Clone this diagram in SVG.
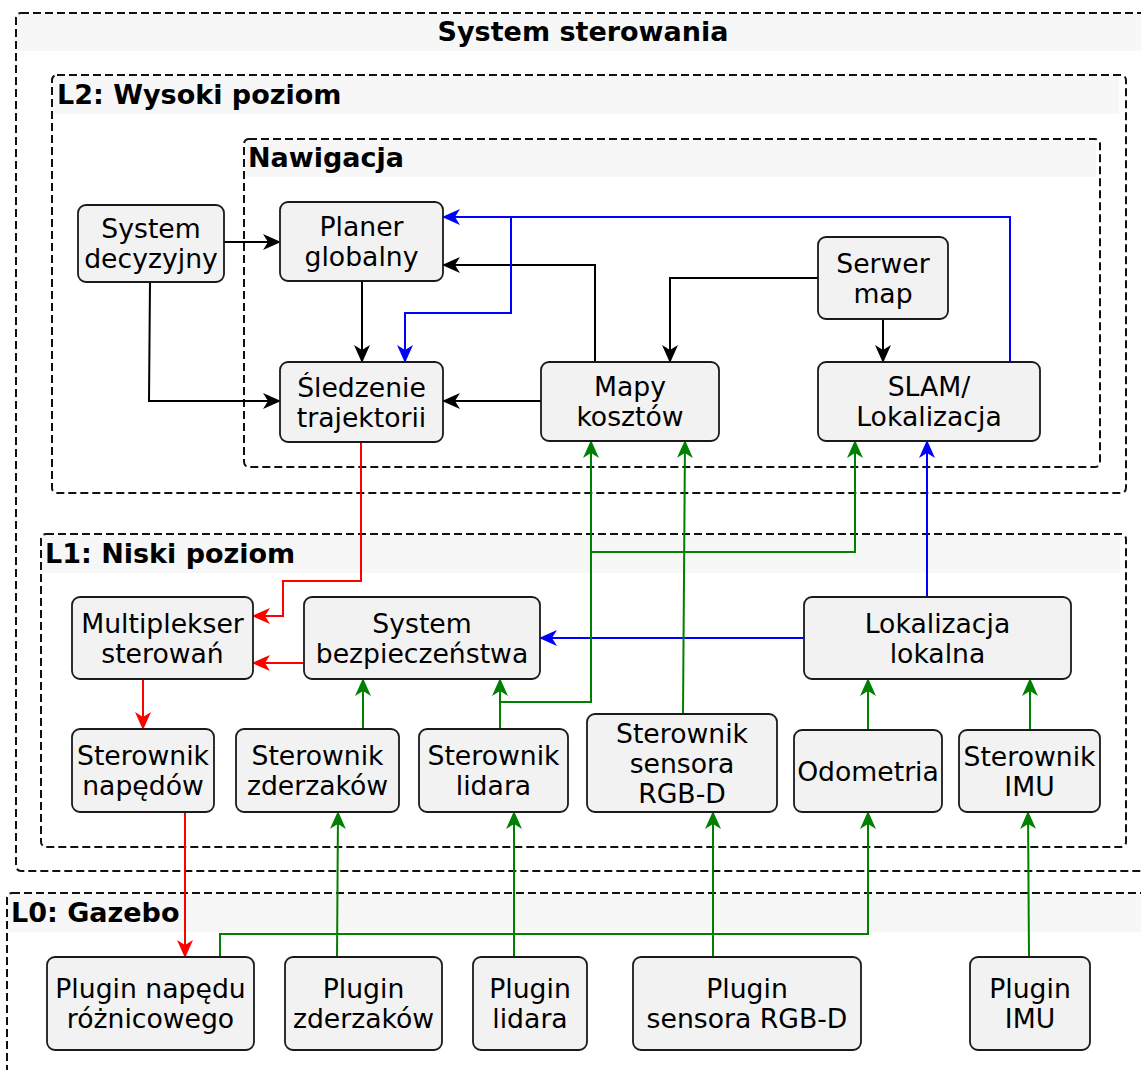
<svg xmlns="http://www.w3.org/2000/svg" width="1141" height="1070" viewBox="0 0 1141 1070">
  <defs>
    <style>
      .cl { fill: none; stroke: #111; stroke-width: 2; stroke-dasharray: 8 4; }
      .band { fill: #f7f7f7; stroke: none; }
      .ct { font-family: "DejaVu Sans", "Liberation Sans", sans-serif; font-size: 27px; font-weight: bold; fill: #000; }
      .nd rect { fill: #f2f2f2; stroke: #1a1a1a; stroke-width: 1.8; }
      .nd text { font-family: "DejaVu Sans", "Liberation Sans", sans-serif; font-size: 26.67px; fill: #000; text-anchor: middle; }
      .e { fill: none; stroke-width: 2; }
      .k { stroke: #000; marker-end: url(#ak); }
      .b { stroke: #0000ff; marker-end: url(#ab); }
      .r { stroke: #ff0000; marker-end: url(#ar); }
      .g { stroke: #008000; marker-end: url(#ag); }
    </style>
    <marker id="ak" viewBox="0 0 18 16" refX="17" refY="8" markerWidth="18" markerHeight="16" markerUnits="userSpaceOnUse" orient="auto"><path d="M0,0 L18,8 L0,16 L5,8 z" fill="#000"/></marker>
    <marker id="ab" viewBox="0 0 18 16" refX="17" refY="8" markerWidth="18" markerHeight="16" markerUnits="userSpaceOnUse" orient="auto"><path d="M0,0 L18,8 L0,16 L5,8 z" fill="#0000ff"/></marker>
    <marker id="ar" viewBox="0 0 18 16" refX="17" refY="8" markerWidth="18" markerHeight="16" markerUnits="userSpaceOnUse" orient="auto"><path d="M0,0 L18,8 L0,16 L5,8 z" fill="#ff0000"/></marker>
    <marker id="ag" viewBox="0 0 18 16" refX="17" refY="8" markerWidth="18" markerHeight="16" markerUnits="userSpaceOnUse" orient="auto"><path d="M0,0 L18,8 L0,16 L5,8 z" fill="#008000"/></marker>
  </defs>
  <rect width="1141" height="1070" fill="#fff"/>

  <!-- clusters -->
  <g id="cluster-system">
    <rect class="band" x="17" y="14" width="1132" height="37"/>
    <rect class="cl" x="16" y="13" width="1134" height="858" rx="5"/>
    <text class="ct" x="583" y="41" text-anchor="middle">System sterowania</text>
  </g>
  <g id="cluster-l2">
    <rect class="band" x="53" y="76" width="1066" height="38"/>
    <rect class="cl" x="52" y="75" width="1074" height="418" rx="5"/>
    <text class="ct" x="57" y="104">L2: Wysoki poziom</text>
  </g>
  <g id="cluster-nav">
    <rect class="band" x="245" y="140" width="851" height="37"/>
    <rect class="cl" x="244" y="139" width="856" height="328" rx="5"/>
    <text class="ct" x="248" y="167">Nawigacja</text>
  </g>
  <g id="cluster-l1">
    <rect class="band" x="42" y="535" width="1078" height="38"/>
    <rect class="cl" x="41" y="534" width="1085" height="313" rx="5"/>
    <text class="ct" x="45" y="563">L1: Niski poziom</text>
  </g>
  <g id="cluster-l0">
    <rect class="band" x="8" y="894" width="1140" height="38"/>
    <rect class="cl" x="7" y="893" width="1150" height="200" rx="5"/>
    <text class="ct" x="11" y="922">L0: Gazebo</text>
  </g>

  <!-- connectors -->
  <g id="edges">
    <!-- black: navigation flow -->
    <path class="e k" d="M224,242 H280"/>
    <path class="e k" d="M150,282 L149,401 H280"/>
    <path class="e k" d="M362,281 V362"/>
    <path class="e k" d="M541,401 H443"/>
    <path class="e k" d="M595,362 V265 H443"/>
    <path class="e k" d="M818,278 H670 V362"/>
    <path class="e k" d="M883,319 V362"/>
    <!-- blue: localisation -->
    <path class="e b" d="M1010,362 V217 H443"/>
    <path class="e b" d="M1010,362 V217 H511 V313 H405 V362"/>
    <path class="e b" d="M927,597 V441"/>
    <path class="e b" d="M804,638 H540"/>
    <!-- red: velocity commands -->
    <path class="e r" d="M361,442 V581 H283 V616 H253"/>
    <path class="e r" d="M304,663 H253"/>
    <path class="e r" d="M143,679 V729"/>
    <path class="e r" d="M185,812 V957"/>
    <!-- green: sensor data -->
    <path class="e g" d="M363,729 V679"/>
    <path class="e g" d="M500,729 V679"/>
    <path class="e g" d="M500,729 V702 H591 V441"/>
    <path class="e g" d="M500,729 V702 H591 V552 H855 V441"/>
    <path class="e g" d="M683,714 L685,441"/>
    <path class="e g" d="M868,730 V679"/>
    <path class="e g" d="M1030,730 V679"/>
    <path class="e g" d="M337,957 L338,812"/>
    <path class="e g" d="M514,957 V812"/>
    <path class="e g" d="M713,957 V812"/>
    <path class="e g" d="M220,957 V934 H868 V812"/>
    <path class="e g" d="M1029,957 L1028,812"/>
  </g>

  <!-- L2 nodes -->
  <g id="system-decyzyjny" class="nd">
    <rect x="78" y="205" width="146" height="77" rx="8"/>
    <text x="151" y="238">System</text><text x="151" y="268">decyzyjny</text>
  </g>
  <g id="planer-globalny" class="nd">
    <rect x="280" y="202" width="163" height="79" rx="8"/>
    <text x="361.5" y="236">Planer</text><text x="361.5" y="266">globalny</text>
  </g>
  <g id="sledzenie-trajektorii" class="nd">
    <rect x="280" y="362" width="163" height="80" rx="8"/>
    <text x="361.5" y="396.5">Śledzenie</text><text x="361.5" y="426.5">trajektorii</text>
  </g>
  <g id="mapy-kosztow" class="nd">
    <rect x="541" y="362" width="178" height="79" rx="8"/>
    <text x="630" y="396">Mapy</text><text x="630" y="426">kosztów</text>
  </g>
  <g id="serwer-map" class="nd">
    <rect x="818" y="237" width="130" height="82" rx="8"/>
    <text x="883" y="272.5">Serwer</text><text x="883" y="302.5">map</text>
  </g>
  <g id="slam" class="nd">
    <rect x="818" y="362" width="222" height="79" rx="8"/>
    <text x="929" y="396">SLAM/</text><text x="929" y="426">Lokalizacja</text>
  </g>

  <!-- L1 nodes -->
  <g id="multiplekser" class="nd">
    <rect x="72" y="597" width="181" height="82" rx="8"/>
    <text x="162.5" y="632.5">Multiplekser</text><text x="162.5" y="662.5">sterowań</text>
  </g>
  <g id="system-bezpieczenstwa" class="nd">
    <rect x="304" y="597" width="236" height="82" rx="8"/>
    <text x="422" y="632.5">System</text><text x="422" y="662.5">bezpieczeństwa</text>
  </g>
  <g id="lokalizacja-lokalna" class="nd">
    <rect x="804" y="597" width="267" height="82" rx="8"/>
    <text x="937.5" y="632.5">Lokalizacja</text><text x="937.5" y="662.5">lokalna</text>
  </g>
  <g id="sterownik-napedow" class="nd">
    <rect x="72" y="729" width="142" height="83" rx="8"/>
    <text x="143" y="765">Sterownik</text><text x="143" y="795">napędów</text>
  </g>
  <g id="sterownik-zderzakow" class="nd">
    <rect x="236" y="729" width="163" height="83" rx="8"/>
    <text x="317.5" y="765">Sterownik</text><text x="317.5" y="795">zderzaków</text>
  </g>
  <g id="sterownik-lidara" class="nd">
    <rect x="419" y="729" width="149" height="83" rx="8"/>
    <text x="493.5" y="765">Sterownik</text><text x="493.5" y="795">lidara</text>
  </g>
  <g id="sterownik-rgbd" class="nd">
    <rect x="587" y="714" width="190" height="98" rx="8"/>
    <text x="682" y="742.5">Sterownik</text><text x="682" y="772.5">sensora</text><text x="682" y="802.5">RGB-D</text>
  </g>
  <g id="odometria" class="nd">
    <rect x="794" y="730" width="148" height="82" rx="8"/>
    <text x="868" y="780.5">Odometria</text>
  </g>
  <g id="sterownik-imu" class="nd">
    <rect x="959" y="730" width="141" height="82" rx="8"/>
    <text x="1029.5" y="765.5">Sterownik</text><text x="1029.5" y="795.5">IMU</text>
  </g>

  <!-- L0 nodes -->
  <g id="plugin-napedu" class="nd">
    <rect x="47" y="957" width="207" height="93" rx="8"/>
    <text x="150.5" y="998">Plugin napędu</text><text x="150.5" y="1028">różnicowego</text>
  </g>
  <g id="plugin-zderzakow" class="nd">
    <rect x="285" y="957" width="157" height="93" rx="8"/>
    <text x="363.5" y="998">Plugin</text><text x="363.5" y="1028">zderzaków</text>
  </g>
  <g id="plugin-lidara" class="nd">
    <rect x="473" y="957" width="114" height="93" rx="8"/>
    <text x="530" y="998">Plugin</text><text x="530" y="1028">lidara</text>
  </g>
  <g id="plugin-rgbd" class="nd">
    <rect x="633" y="957" width="228" height="93" rx="8"/>
    <text x="747" y="998">Plugin</text><text x="747" y="1028">sensora RGB-D</text>
  </g>
  <g id="plugin-imu" class="nd">
    <rect x="970" y="957" width="120" height="93" rx="8"/>
    <text x="1030" y="998">Plugin</text><text x="1030" y="1028">IMU</text>
  </g>
</svg>
